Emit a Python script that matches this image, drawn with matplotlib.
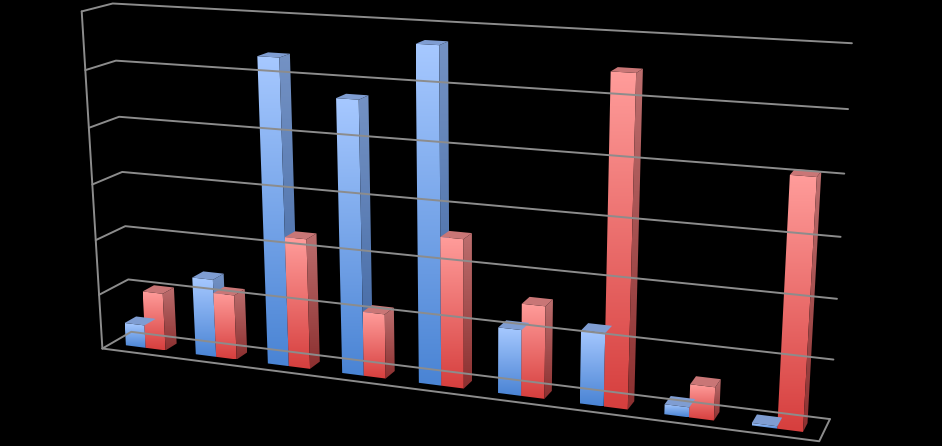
import numpy as np
import matplotlib
matplotlib.use('Agg')
import matplotlib.pyplot as plt
from matplotlib.patches import Polygon

# values in gridline units (the value axis has 6 gridline steps, no labels)
categories = ['1', '2', '3', '4', '5', '6', '7', '8', '9']
series_blue = [0.42, 1.41, 5.37, 4.76, 5.73, 1.14, 1.25, 0.17, 0.04]
series_red = [1.05, 1.17, 2.31, 1.14, 2.58, 1.59, 5.48, 0.56, 4.08]
z_ticks = [0, 1, 2, 3, 4, 5, 6]

# frame calibration: (x, depth, z) corners of the walls -> pixel in the picture
frame_world = [(0, 0, 0), (0, 0, 1), (0, 0, 2), (0, 0, 3), (0, 0, 4), (0, 0, 5), (0, 0, 6),
               (0, 1, 1), (0, 1, 2), (0, 1, 3), (0, 1, 4), (0, 1, 5), (0, 1, 6),
               (1, 1, 0), (1, 1, 1), (1, 1, 2), (1, 1, 3), (1, 1, 4), (1, 1, 5), (1, 1, 6),
               (1, 0, 0)]
frame_pix = [(101.7, 349), (100, 295), (96, 240), (92.3, 184.3), (89, 127.7), (85.3, 70.3), (81, 11.5),
             (128.3, 279), (124.3, 226), (122.3, 171.7), (120, 117), (116, 61), (112.7, 3.3),
             (830, 419.3), (833.3, 360), (836.7, 298.7), (840.7, 236.7), (844.3, 174), (848.3, 109), (851.7, 43),
             (819.3, 440.7)]

n_cat = len(categories)
cat_w = 1.0 / n_cat
bar_w = cat_w / 3.5   # gap width 150%
y0, y1 = 0.3, 0.7     # bar depth inside the floor

# (front top, front bottom), (side top, side bottom), top face
styles = [
    (('#a6c8ff', '#4a84d4'), ('#7492c4', '#3f66a2'), '#7f9dd2'),
    (('#ff9c9a', '#d63f3e'), ('#bc6e6e', '#8c3030'), '#c97676'),
]


def fit_camera(world, pix):
    # plain DLT with normalised pixel coords
    world = np.asarray(world, float)
    pix = np.asarray(pix, float)
    m = pix.mean(0)
    s = np.sqrt(2) / np.mean(np.linalg.norm(pix - m, axis=1))
    T = np.array([[s, 0, -s * m[0]], [0, s, -s * m[1]], [0, 0, 1]])
    pn = (T @ np.c_[pix, np.ones(len(pix))].T).T
    rows = []
    for (X, Y, Z), (u, v, _) in zip(world, pn):
        h = np.array([X, Y, Z, 1.0])
        rows.append(np.r_[h, np.zeros(4), -u * h])
        rows.append(np.r_[np.zeros(4), h, -v * h])
    _, _, vt = np.linalg.svd(np.array(rows))
    return np.linalg.inv(T) @ vt[-1].reshape(3, 4)


P = fit_camera(frame_world, frame_pix)


def proj(pts):
    pts = np.atleast_2d(np.asarray(pts, float))
    h = (P @ np.c_[pts, np.ones(len(pts))].T).T
    return h[:, :2] / h[:, 2:3]


def gradient_face(ax, poly, c_top, c_bot):
    patch = Polygon(poly, closed=True, fc='none', ec='none')
    ax.add_patch(patch)
    t = np.linspace(0, 1, 64)[:, None]
    a = np.array(matplotlib.colors.to_rgb(c_top))
    b = np.array(matplotlib.colors.to_rgb(c_bot))
    img = (a + (b - a) * t)[:, None, :]
    xmin, ymin = poly.min(0)
    xmax, ymax = poly.max(0)
    im = ax.imshow(img, extent=(xmin, xmax, ymax, ymin), aspect='auto', interpolation='bilinear')
    im.set_clip_path(patch)


fig = plt.figure(figsize=(9.42, 4.46), dpi=100, facecolor='black')
ax = fig.add_axes([0, 0, 1, 1])
ax.set_facecolor('black')

grid_kw = dict(color='#8c8c8c', lw=1.4, solid_capstyle='round')
for k in z_ticks:
    pts = proj([(0, 0, k), (0, 1, k), (1, 1, k)])
    ax.plot(pts[:, 0], pts[:, 1], **grid_kw)
pts = proj([(0, 0, z_ticks[0]), (0, 0, z_ticks[-1])])
ax.plot(pts[:, 0], pts[:, 1], **grid_kw)
pts = proj([(0, 0, 0), (1, 0, 0), (1, 1, 0)])
ax.plot(pts[:, 0], pts[:, 1], **grid_kw)

# far (left) to near (right)
for i in range(n_cat):
    c = (i + 0.5) * cat_w
    for j, vals in enumerate([series_blue, series_red]):
        z = vals[i]
        x0 = c - bar_w + j * bar_w
        x1 = x0 + bar_w
        (ft, fb), (st, sb), tc = styles[j]
        front = proj([(x0, y0, 0), (x1, y0, 0), (x1, y0, z), (x0, y0, z)])
        side = proj([(x1, y0, 0), (x1, y1, 0), (x1, y1, z), (x1, y0, z)])
        top = proj([(x0, y0, z), (x1, y0, z), (x1, y1, z), (x0, y1, z)])
        gradient_face(ax, front, ft, fb)
        gradient_face(ax, side, st, sb)
        ax.add_patch(Polygon(top, closed=True, fc=tc, ec='none'))

ax.set_xlim(0, 942)
ax.set_ylim(446, 0)
ax.axis('off')

fig.savefig('out.png', dpi=100, facecolor='black')
